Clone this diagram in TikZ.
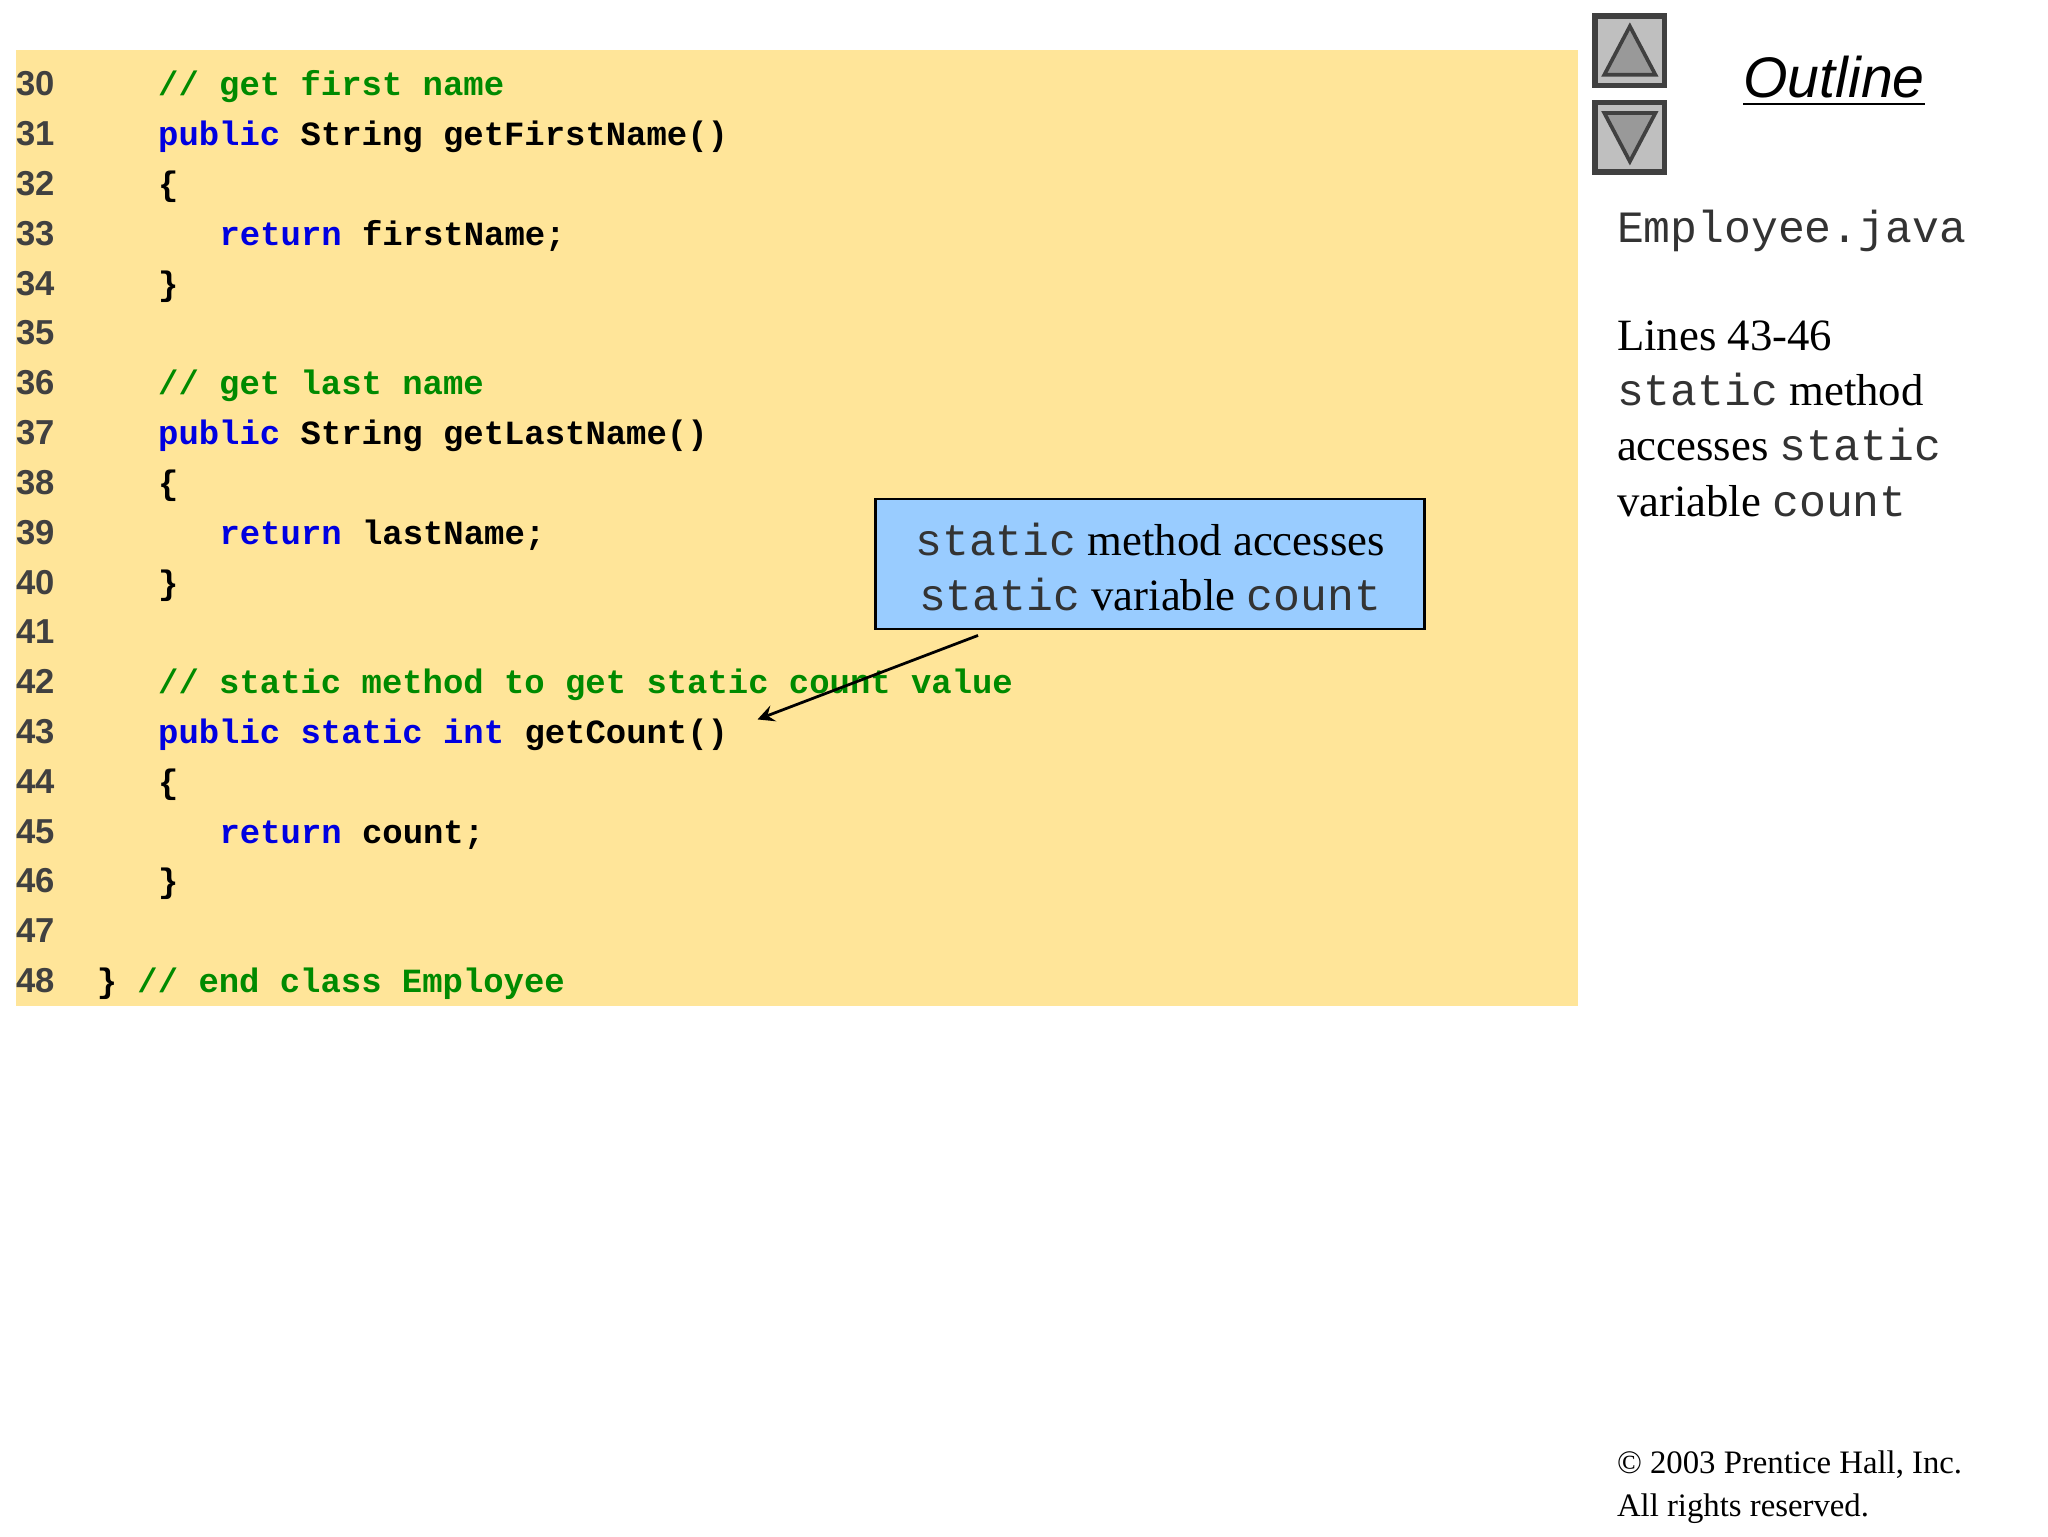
\documentclass[tikz,border=0pt]{standalone}
\usepackage{fontspec}
\setmainfont{Liberation Serif}
\setmonofont{Liberation Mono}
\setsansfont{Liberation Sans}
\definecolor{codebg}{HTML}{FFE599}
\definecolor{kwblue}{HTML}{0000E0}
\definecolor{cmgreen}{HTML}{008A00}
\definecolor{callbg}{HTML}{99CCFF}
\definecolor{numgray}{HTML}{404040}
\newcommand\kw[1]{\textcolor{kwblue}{#1}}
\newcommand\cm[1]{\textcolor{cmgreen}{#1}}
\newcommand\lmono[1]{\textcolor{black!80}{\texttt{#1}}}
\tikzset{
  codeline/.style={anchor=mid west,inner sep=0pt,font=\fontsize{7.35}{9}\selectfont\ttfamily\bfseries},
  numline/.style={anchor=mid west,inner sep=0pt,text=numgray,font=\fontsize{7.5}{9}\selectfont\sffamily\bfseries},
  sidetext/.style={anchor=mid west,inner sep=0pt,font=\fontsize{9.7}{12}\selectfont},
  navbtn/.style={draw=black!75,line width=1.2pt,fill=black!25},
}
\begin{document}
\begin{tikzpicture}[x=0.1mm,y=-0.1mm]
\useasboundingbox (0,0) rectangle (1560,1170);
\fill[codebg] (12,38) rectangle (1202,766);
\foreach \n [count=\i from 0] in {30,...,48}{
  \node[numline] (n\n) at (12,65+37.94*\i) {\n};
}
\def\col#1{73+15.6*#1}
\def\ly#1{65+37.94*#1}
\node[codeline] (c30) at ({\col{3}},{\ly{0}}) {\cm{// get first name}};
\node[codeline] (c31) at ({\col{3}},{\ly{1}}) {\kw{public} String getFirstName()};
\node[codeline] (c32) at ({\col{3}},{\ly{2}}) {\{};
\node[codeline] (c33) at ({\col{6}},{\ly{3}}) {\kw{return} firstName;};
\node[codeline] (c34) at ({\col{3}},{\ly{4}}) {\}};
\node[codeline] (c36) at ({\col{3}},{\ly{6}}) {\cm{// get last name}};
\node[codeline] (c37) at ({\col{3}},{\ly{7}}) {\kw{public} String getLastName()};
\node[codeline] (c38) at ({\col{3}},{\ly{8}}) {\{};
\node[codeline] (c39) at ({\col{6}},{\ly{9}}) {\kw{return} lastName;};
\node[codeline] (c40) at ({\col{3}},{\ly{10}}) {\}};
\node[codeline] (c42) at ({\col{3}},{\ly{12}}) {\cm{// static method to get static count value}};
\node[codeline] (c43) at ({\col{3}},{\ly{13}}) {\kw{public static int} getCount()};
\node[codeline] (c44) at ({\col{3}},{\ly{14}}) {\{};
\node[codeline] (c45) at ({\col{6}},{\ly{15}}) {\kw{return} count;};
\node[codeline] (c46) at ({\col{3}},{\ly{16}}) {\}};
\node[codeline] (c48) at ({\col{0}},{\ly{18}}) {\} \cm{// end class Employee}};
% callout
\node[draw=black,line width=0.6pt,fill=callbg,minimum width=41.8mm,minimum height=9.9mm,anchor=north west,inner sep=0pt] (call) at (666,379) {};
\node[inner sep=0pt,font=\fontsize{9.7}{12}\selectfont] (cl1) at (876,411) {\lmono{static} method accesses};
\node[inner sep=0pt,font=\fontsize{9.7}{12}\selectfont] (cl2) at (876,453) {\lmono{static} variable \lmono{count}};
\coordinate (arrS) at (745,484);
\coordinate (arrE) at (577,548);
\draw[-stealth,line width=0.6pt] (arrS) -- (arrE);
% nav buttons
\draw[navbtn] (1215,12) rectangle (1268,65);
\draw[black!75,fill=black!40,line width=0.8pt] (1222,57) -- (1241.5,20) -- (1261,57) -- cycle;
\draw[navbtn] (1215,78) rectangle (1268,131);
\draw[black!75,fill=black!40,line width=0.8pt] (1222,86) -- (1241.5,123) -- (1261,86) -- cycle;
\node[inner sep=0pt,font=\fontsize{12.4}{14}\selectfont\sffamily\itshape] (outl) at (1397,62) {\underline{Outline}};
\node[sidetext] (emp) at (1231,177) {\lmono{Employee.java}};
\node[sidetext] (s1) at (1231,259) {Lines 43-46};
\node[sidetext] (s2) at (1231,301) {\lmono{static} method};
\node[sidetext] (s3) at (1231,343) {accesses \lmono{static}};
\node[sidetext] (s4) at (1231,385) {variable \lmono{count}};
\node[anchor=mid west,inner sep=0pt,font=\fontsize{7.1}{9}\selectfont] (cp1) at (1231,1114) {\textcopyright{} 2003 Prentice Hall, Inc.};
\node[anchor=mid west,inner sep=0pt,font=\fontsize{7.1}{9}\selectfont] (cp2) at (1231,1147) {All rights reserved.};
\end{tikzpicture}
\end{document}
